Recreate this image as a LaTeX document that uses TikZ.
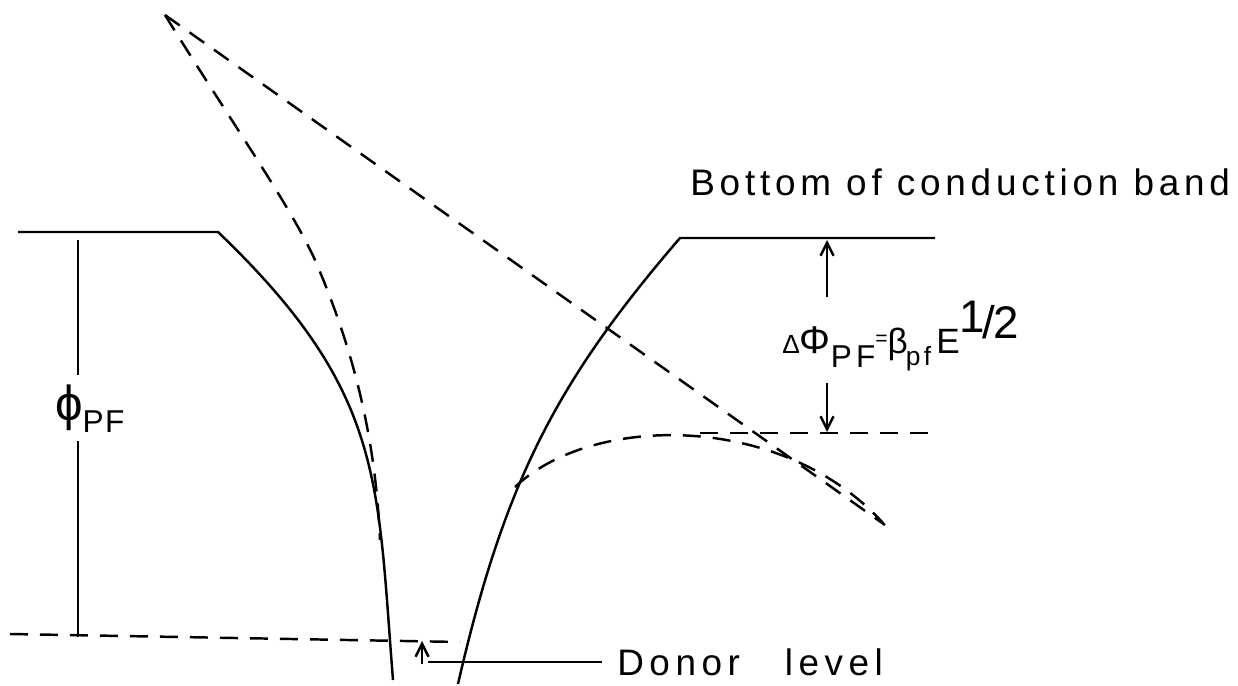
\documentclass[tikz,border=0pt]{standalone}
\usepackage{fontspec}
\setmainfont{Liberation Sans}
\newfontfamily\lettering[LetterSpace=13]{Liberation Sans}
\usetikzlibrary{arrows.meta,positioning}

\begin{document}
\begin{tikzpicture}[
  x=0.02cm, y=-0.02cm,
  >={Straight Barb[length=2.6mm, width=2.6mm]},
  band/.style={line width=1.4pt},
  guide/.style={line width=1.4pt, dash pattern=on 3.6mm off 2.4mm},
  dim/.style={line width=1.4pt},
  lbl/.style={font=\lettering\fontsize{21}{23}\selectfont, inner sep=0pt}
]
\useasboundingbox (0,0) rectangle (1238,686);

% band edges
\coordinate (cbl0) at (18,232);
\coordinate (cbl1) at (218,232);
\coordinate (wl) at (393,680);
\coordinate (cbr0) at (680,238);
\coordinate (cbr1) at (935,238);
\coordinate (wr) at (458,684);
\draw[band] (cbl0) -- (cbl1) .. controls (385,392) and (377,480) .. (wl);
\draw[band] (cbr1) -- (cbr0) .. controls (555,383) and (504,484) .. (wr);

% lowered barrier
\coordinate (apex) at (165,15);
\coordinate (tail) at (885,525);
\coordinate (hump) at (515,487);
\coordinate (hend) at (883,523);
\coordinate (top) at (700,433);
\coordinate (topr) at (935,433);
\draw[guide] (apex) .. controls (230,120) and (290,205) .. (315,260)
                    .. controls (345,330) and (375,420) .. (380,540);
\draw[guide] (apex) -- (tail);
\draw[guide] (hump) .. controls (590,415) and (780,410) .. (hend);
\draw[guide] (top) -- (topr);

% donor level
\coordinate (dl0) at (10,634);
\coordinate (dl1) at (460,642);
\draw[guide] (dl0) -- (dl1);

% barrier height
\node[lbl, anchor=base west, inner sep=5pt] (phi) at (46,420)
  {{\fontsize{28}{30}\selectfont ϕ}\raisebox{-0.24cm}{\fontsize{18}{20}\selectfont\addfontfeature{LetterSpace=4}PF}};
\coordinate (v0) at (78,240);
\coordinate (v1) at (78,637);
\draw[dim] (v0) -- (phi.north -| v0);
\draw[dim] (phi.south -| v0) -- (v1);

% lowering
\node[lbl, anchor=base west] (dphi) at (782,353)
  {{\fontsize{15}{16}\selectfont Δ}{\fontsize{22}{24}\selectfont Φ}\raisebox{-0.3cm}{\fontsize{18}{20}\selectfont PF}%
   \raisebox{0.15cm}{\fontsize{12}{14}\selectfont =}{\fontsize{20}{22}\selectfont β}\hspace{-0.04cm}%
   \raisebox{-0.26cm}{\fontsize{15}{17}\selectfont pf}\hspace{0.1cm}{\fontsize{20}{22}\selectfont E}%
   \raisebox{0.3cm}{\fontsize{26}{28}\selectfont\addfontfeature{LetterSpace=0}\raisebox{0.12cm}{1}\hspace{-0.05em}/\hspace{-0.05em}2}};
\coordinate (a0) at (827,297);
\coordinate (a1) at (827,240);
\coordinate (b0) at (827,383);
\coordinate (b1) at (827,432);
\draw[dim, ->] (a0) -- (a1);
\draw[dim, ->] (b0) -- (b1);

\node[lbl, anchor=base west] (cb) at (690,195) {Bottom of conduction band};
\node[lbl, anchor=base west, inner xsep=0.3cm] (donor) at (602,675)
  {\addfontfeature{LetterSpace=15}Donor\hspace{0.9cm}level};
\coordinate (d0) at (428,662);
\coordinate (d1) at (422,664);
\coordinate (d2) at (422,641);
\draw[dim] (d0) -- (d0 -| donor.west);
\draw[dim, ->] (d1) -- (d2);
\end{tikzpicture}
\end{document}
